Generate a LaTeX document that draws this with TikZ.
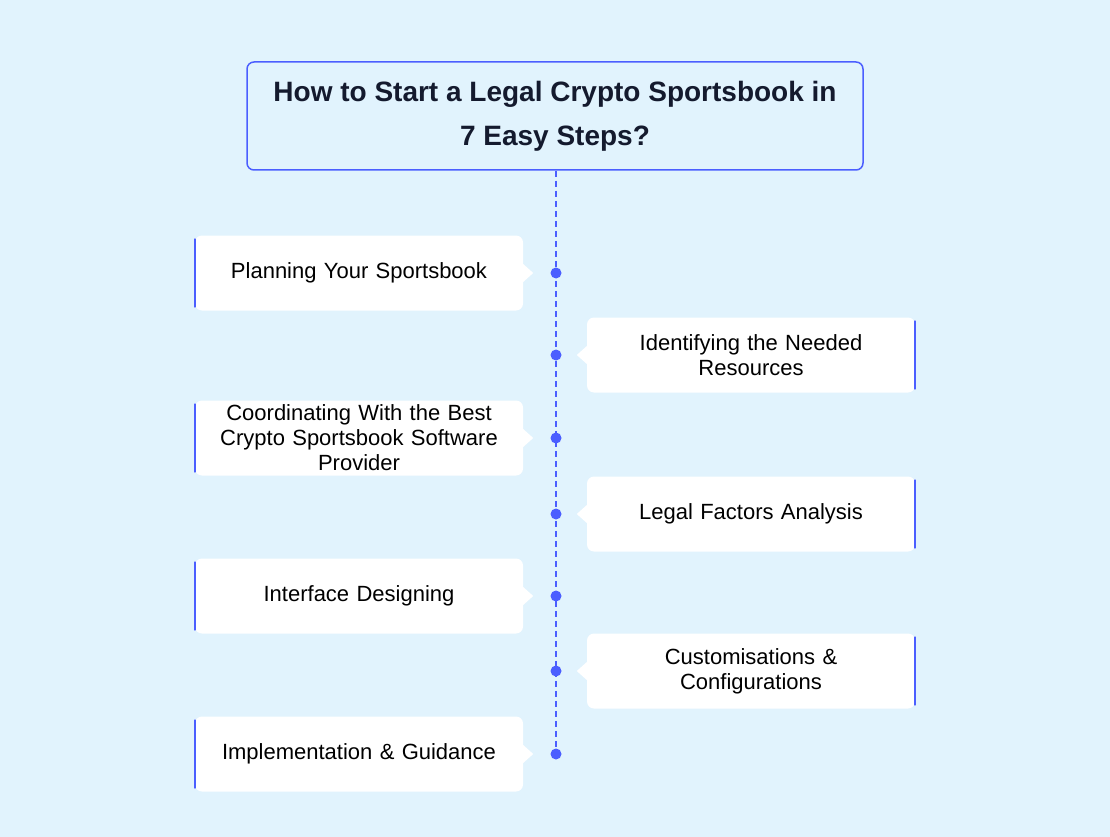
\documentclass[tikz,border=0pt]{standalone}
\usepackage{fontspec}
\setmainfont{Liberation Sans}
\usetikzlibrary{calc}
\definecolor{bgblue}{HTML}{E1F3FD}
\definecolor{accent}{HTML}{4B5EFF}
\definecolor{ink}{HTML}{141A2E}
\tikzset{
  stepbox/.style={fill=white, rounded corners=7pt, minimum width=328pt, minimum height=75pt,
    text width=320pt, align=center, font=\fontsize{22}{25}\selectfont, text=black, inner sep=0pt},
  dot/.style={circle, fill=accent, inner sep=0pt, minimum size=11pt},
  edgeline/.style={accent, line width=2.2pt, line cap=round}
}
\begin{document}
\begin{tikzpicture}[x=1pt,y=-1pt]
  \fill[bgblue] (0,0) rectangle (1110,837);
  \useasboundingbox (0,0) rectangle (1110,837);
  % title
  \node[draw=accent, line width=1.5pt, fill=bgblue, rounded corners=7pt, minimum width=616pt,
    minimum height=108pt, align=center, text=ink, font=\bfseries\fontsize{28}{44}\selectfont]
    (title) at (555,116) {How to Start a Legal Crypto Sportsbook in\\7 Easy Steps?};
  \coordinate (lineend) at (556,754);
  \draw[accent, line width=1.5pt, dash pattern=on 6pt off 4pt] (title.south -| lineend) -- (lineend);
  % left steps
  \node[stepbox] (s1) at (359,273) {Planning Your Sportsbook};
  \node[stepbox] (s3) at (359,438) {Coordinating With the Best\\Crypto Sportsbook Software\\Provider};
  \node[stepbox] (s5) at (359,596) {Interface Designing};
  \node[stepbox] (s7) at (359,754) {Implementation \& Guidance};
  % right steps
  \node[stepbox] (s2) at (751,355) {Identifying the Needed\\Resources};
  \node[stepbox] (s4) at (751,514) {Legal Factors Analysis};
  \node[stepbox] (s6) at (751,671) {Customisations \&\\Configurations};
  \foreach \s in {s1,s3,s5,s7}{
    \fill[white] ($(\s.east)+(0,-9)$) -- ($(\s.east)+(10,0)$) -- ($(\s.east)+(0,9)$) -- cycle;
    \draw[edgeline] ($(\s.north west)+(0,4)$) -- ($(\s.south west)+(0,-4)$);
    \node[dot] (d\s) at (\s.east -| lineend) {};
  }
  \foreach \s in {s2,s4,s6}{
    \fill[white] ($(\s.west)+(0,-9)$) -- ($(\s.west)+(-10,0)$) -- ($(\s.west)+(0,9)$) -- cycle;
    \draw[edgeline] ($(\s.north east)+(0,4)$) -- ($(\s.south east)+(0,-4)$);
    \node[dot] (d\s) at (\s.west -| lineend) {};
  }
\end{tikzpicture}
\end{document}
